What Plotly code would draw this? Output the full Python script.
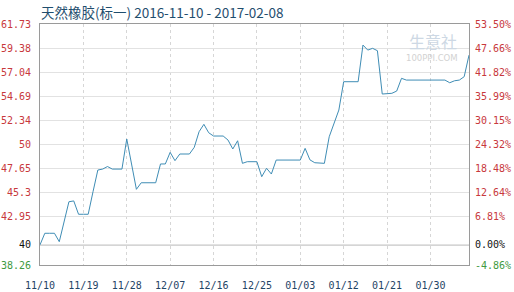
import pandas as pd
import plotly.graph_objects as go

title_text = "天然橡胶(标一) 2016-11-10 - 2017-02-08"

# categories: trading calendar shown on the chart (90 points, one day absent before 02/08)
all_days = pd.date_range("2016-11-10", "2017-02-08", freq="D")
dates = [d.strftime("%Y-%m-%d") for d in all_days if d.strftime("%Y-%m-%d") != "2017-02-05"]

prices = [
    40.22, 41.35, 41.35, 41.35, 40.53, 42.5, 44.42, 44.5, 43.2, 43.2,
    43.2, 45.4, 47.51, 47.6, 47.85, 47.6, 47.6, 47.6, 50.53, 48.1,
    45.63, 46.27, 46.27, 46.27, 46.27, 48.1, 48.1, 49.23, 48.42, 49.07,
    49.07, 49.07, 49.72, 51.24, 51.96, 51.14, 50.82, 50.82, 50.82, 50.43,
    49.56, 50.36, 48.16, 48.32, 48.32, 48.32, 46.86, 47.68, 47.12, 48.48,
    48.48, 48.48, 48.48, 48.48, 48.48, 49.62, 48.5, 48.22, 48.2, 48.16,
    50.75, 52.1, 53.35, 56.11, 56.11, 56.11, 56.11, 59.68, 59.19, 59.36,
    59.13, 54.91, 54.95, 54.98, 55.2, 56.44, 56.27, 56.27, 56.27, 56.27,
    56.27, 56.27, 56.27, 56.27, 56.27, 56.01, 56.2, 56.27, 56.6, 58.7,
]

base_value = 40.22
y_min, y_max = 38.26, 61.73
y_ticks = [38.26, 40.22, 42.95, 45.3, 47.65, 50, 52.34, 54.69, 57.04, 59.38, 61.73]
y_left_labels = ["38.26", "40", "42.95", "45.3", "47.65", "50", "52.34", "54.69", "57.04", "59.38", "61.73"]
y_right_labels = ["-4.86%", "0.00%", "6.81%", "12.64%", "18.48%", "24.32%", "30.15%", "35.99%", "41.82%", "47.66%", "53.50%"]

x_tick_dates = ["2016-11-10", "2016-11-19", "2016-11-28", "2016-12-07", "2016-12-16",
                "2016-12-25", "2017-01-03", "2017-01-12", "2017-01-21", "2017-01-30"]
x_tick_labels = ["11/10", "11/19", "11/28", "12/07", "12/16", "12/25", "01/03", "01/12", "01/21", "01/30"]

RED = "#c8383c"
GREEN = "#3f9a3f"
BLACK = "#111111"


def color_label(txt, v):
    if abs(v - base_value) < 1e-9:
        c = BLACK
    elif v < base_value:
        c = GREEN
    else:
        c = RED
    return f'<span style="color:{c}">{txt}</span>'


left_text = [color_label(t, v) for t, v in zip(y_left_labels, y_ticks)]
right_text = [color_label(t, v) for t, v in zip(y_right_labels, y_ticks)]

fig = go.Figure()
fig.add_trace(go.Scatter(
    x=dates, y=prices, mode="lines",
    line=dict(color="#3f8db5", width=1),
    hoverinfo="skip", showlegend=False,
))
# invisible trace on the right axis
fig.add_trace(go.Scatter(
    x=[dates[0]], y=[base_value], yaxis="y2", mode="markers",
    marker=dict(opacity=0), hoverinfo="skip", showlegend=False,
))

mono = "DejaVu Sans Mono"

fig.update_layout(
    width=514, height=292,
    margin=dict(l=40, r=45, t=24, b=27),
    paper_bgcolor="white", plot_bgcolor="white",
    xaxis=dict(
        type="category", categoryorder="array", categoryarray=dates,
        range=[0, len(dates) - 1], automargin=False,
        tickmode="array", tickvals=x_tick_dates, ticktext=x_tick_labels,
        showgrid=True, gridcolor="#d6d6d6", griddash="dot", gridwidth=1,
        showline=True, linecolor="#9a9a9a", linewidth=1, mirror=True,
        ticks="", ticklabelstandoff=11,
        tickfont=dict(family=mono, size=10, color="#1f4466"),
        zeroline=False,
    ),
    yaxis=dict(
        range=[y_min, y_max], tickmode="array", tickvals=y_ticks, ticktext=left_text,
        showgrid=True, gridcolor="#e2e2e2", gridwidth=1, automargin=False,
        showline=True, linecolor="#9a9a9a", linewidth=1,
        ticks="", ticklabelstandoff=6,
        tickfont=dict(family=mono, size=10),
        zeroline=False,
    ),
    yaxis2=dict(
        range=[y_min, y_max], tickmode="array", tickvals=y_ticks, ticktext=right_text,
        overlaying="y", side="right", showgrid=False, automargin=False,
        showline=True, linecolor="#9a9a9a", linewidth=1,
        ticks="", ticklabelstandoff=3,
        tickfont=dict(family=mono, size=10),
        zeroline=False,
    ),
    shapes=[dict(
        type="line", xref="paper", x0=0, x1=1, yref="y", y0=base_value, y1=base_value,
        line=dict(color="#8c8c8c", width=1), layer="below",
    )],
    annotations=[
        dict(text=title_text, xref="paper", yref="paper", x=0, y=1, xshift=-1, yshift=12,
             xanchor="left", yanchor="middle", showarrow=False,
             font=dict(family="Noto Sans CJK SC", size=13.5, color="#1f4e6e")),
        dict(text="生意社", xref="paper", yref="paper", x=0.915, y=1, yshift=-17,
             xanchor="center", yanchor="middle", showarrow=False,
             font=dict(family="Noto Sans CJK SC", size=16, color="#cdd8e4")),
        dict(text="100PPI.COM", xref="paper", yref="paper", x=0.913, y=1, yshift=-34,
             xanchor="center", yanchor="middle", showarrow=False,
             font=dict(family="DejaVu Sans", size=8.5, color="#d2d2d2")),
    ],
)

fig.write_html("out.html")
